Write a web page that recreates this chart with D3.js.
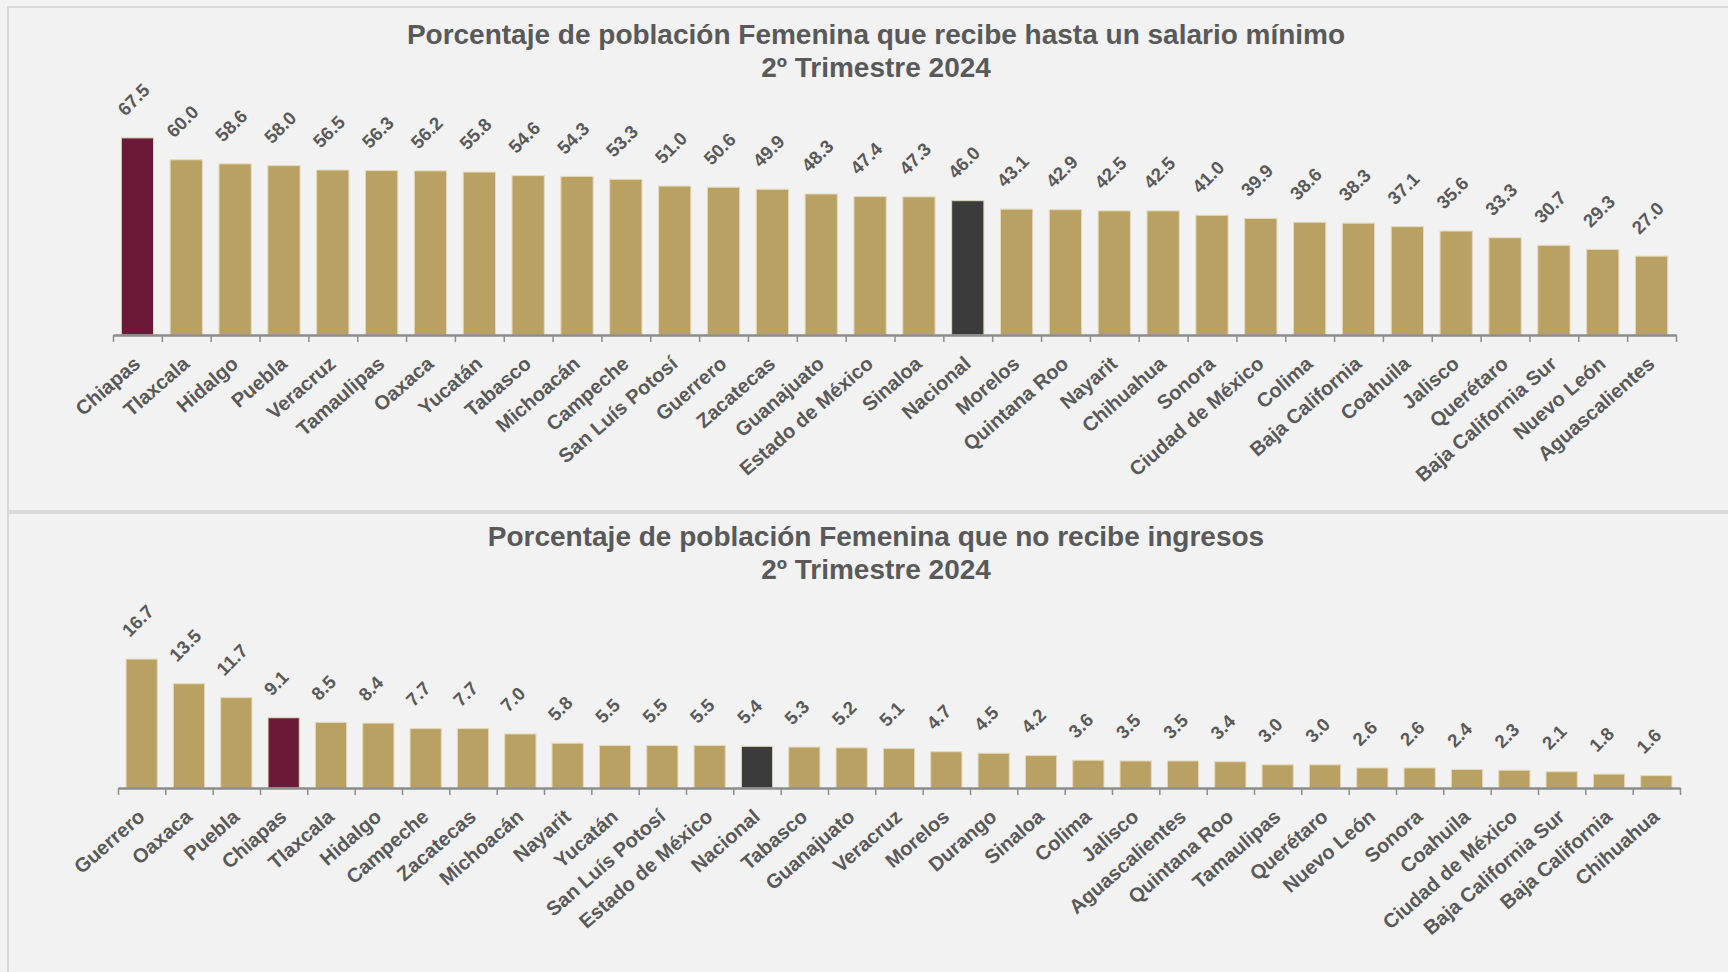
<!DOCTYPE html>
<meta charset="utf-8">
<head>
<style>
  body { margin: 0; background: #F2F2F2; }
  text { font-family: "Liberation Sans", Arial, sans-serif; }
</style>
</head>
<body>
<svg id="chart" width="1728" height="972"></svg>
<script src="https://d3js.org/d3.v7.min.js"></script>
<script>

// --- data: top chart (hasta un salario mínimo)
var topTitle = ["Porcentaje de población Femenina que recibe hasta un salario mínimo", "2º Trimestre 2024"];
var topCats = ["Chiapas","Tlaxcala","Hidalgo","Puebla","Veracruz","Tamaulipas","Oaxaca","Yucatán","Tabasco",
  "Michoacán","Campeche","San Luís Potosí","Guerrero","Zacatecas","Guanajuato","Estado de México","Sinaloa",
  "Nacional","Morelos","Quintana Roo","Nayarit","Chihuahua","Sonora","Ciudad de México","Colima",
  "Baja California","Coahuila","Jalisco","Querétaro","Baja California Sur","Nuevo León","Aguascalientes"];
var topVals = [67.5,60.0,58.6,58.0,56.5,56.3,56.2,55.8,54.6,54.3,53.3,51.0,50.6,49.9,48.3,47.4,47.3,
  46.0,43.1,42.9,42.5,42.5,41.0,39.9,38.6,38.3,37.1,35.6,33.3,30.7,29.3,27.0];

// --- data: bottom chart (no recibe ingresos)
var botTitle = ["Porcentaje de población Femenina que no recibe ingresos", "2º Trimestre 2024"];
var botCats = ["Guerrero","Oaxaca","Puebla","Chiapas","Tlaxcala","Hidalgo","Campeche","Zacatecas","Michoacán",
  "Nayarit","Yucatán","San Luís Potosí","Estado de México","Nacional","Tabasco","Guanajuato","Veracruz",
  "Morelos","Durango","Sinaloa","Colima","Jalisco","Aguascalientes","Quintana Roo","Tamaulipas","Querétaro",
  "Nuevo León","Sonora","Coahuila","Ciudad de México","Baja California Sur","Baja California","Chihuahua"];
var botVals = [16.7,13.5,11.7,9.1,8.5,8.4,7.7,7.7,7.0,5.8,5.5,5.5,5.5,5.4,5.3,5.2,5.1,4.7,4.5,4.2,3.6,3.5,
  3.5,3.4,3.0,3.0,2.6,2.6,2.4,2.3,2.1,1.8,1.6];

var svg = d3.select("#chart");
var textColor = "#595959";

function barColor(c) {
  if (c === "Chiapas") return "#6A1A38";
  if (c === "Nacional") return "#3B3B3B";
  return "#B9A163";
}

// panel frames
svg.append("rect").attr("x", 8).attr("y", 7).attr("width", 1760).attr("height", 504)
  .attr("fill", "#F2F2F2").attr("stroke", "#D9D9D9").attr("stroke-width", 2);
svg.append("rect").attr("x", 8).attr("y", 513).attr("width", 1760).attr("height", 500)
  .attr("fill", "#F2F2F2").attr("stroke", "#D9D9D9").attr("stroke-width", 2);

function drawChart(cats, vals, title, o) {
  var g = svg.append("g");

  var x = d3.scaleBand().domain(cats).range([o.x0, o.x1]).padding(0);
  var y = d3.scaleLinear().domain([0, o.yMax]).range([o.axisY, o.yTop]);
  var bw = x.bandwidth() * 0.66;

  // title
  g.append("text")
    .attr("x", 876).attr("y", o.titleY)
    .attr("text-anchor", "middle")
    .attr("fill", textColor)
    .style("font-size", "28px").style("font-weight", "bold")
    .selectAll("tspan")
    .data(title)
    .enter().append("tspan")
      .attr("x", 876)
      .attr("dy", function(d, i) { return i ? 33 : 0; })
      .text(function(d) { return d; });

  // bars
  g.selectAll("rect.bar")
    .data(cats)
    .enter().append("rect")
      .attr("class", "bar")
      .attr("x", function(d) { return x(d) + (x.bandwidth() - bw) / 2; })
      .attr("y", function(d, i) { return y(vals[i]); })
      .attr("width", bw)
      .attr("height", function(d, i) { return o.axisY - y(vals[i]); })
      .attr("fill", barColor)
      .attr("stroke", "#E4D9BC")
      .attr("stroke-width", 1);

  // value labels
  g.selectAll("text.val")
    .data(cats)
    .enter().append("text")
      .attr("class", "val")
      .attr("transform", function(d, i) {
        return "translate(" + (x(d) + x.bandwidth() / 2 - 12) + "," + (y(vals[i]) - 21) + ") rotate(-45)";
      })
      .attr("fill", textColor)
      .style("font-size", "18.5px").style("font-weight", "bold")
      .text(function(d, i) { return vals[i].toFixed(1); });

  // axis with ticks between categories
  var tickScale = d3.scaleLinear().domain([0, cats.length]).range([o.x0, o.x1]);
  var axis = g.append("g")
    .attr("transform", "translate(0," + o.axisY + ")")
    .call(d3.axisBottom(tickScale).ticks(cats.length).tickSize(7).tickSizeOuter(0).tickFormat(""));
  axis.select(".domain").attr("stroke", "#8C8C8C").attr("stroke-width", 2.5);
  axis.selectAll(".tick line").attr("stroke", "#8C8C8C").attr("stroke-width", 1.5);

  // category labels
  g.selectAll("text.cat")
    .data(cats)
    .enter().append("text")
      .attr("class", "cat")
      .attr("transform", function(d) {
        return "translate(" + (x(d) + x.bandwidth() / 2 - 5) + "," + (o.axisY + 20) + ") rotate(-41)";
      })
      .attr("dy", "0.71em")
      .attr("text-anchor", "end")
      .attr("fill", textColor)
      .style("font-size", "20px").style("font-weight", "bold")
      .text(function(d) { return d; });
}

drawChart(topCats, topVals, topTitle, { x0: 113, x1: 1676, axisY: 335, yMax: 70, yTop: 335 - 70 * 2.92, titleY: 44 });
drawChart(botCats, botVals, botTitle, { x0: 118, x1: 1680, axisY: 788, yMax: 20, yTop: 788 - 20 * 7.72, titleY: 546 });

</script>
</body>
